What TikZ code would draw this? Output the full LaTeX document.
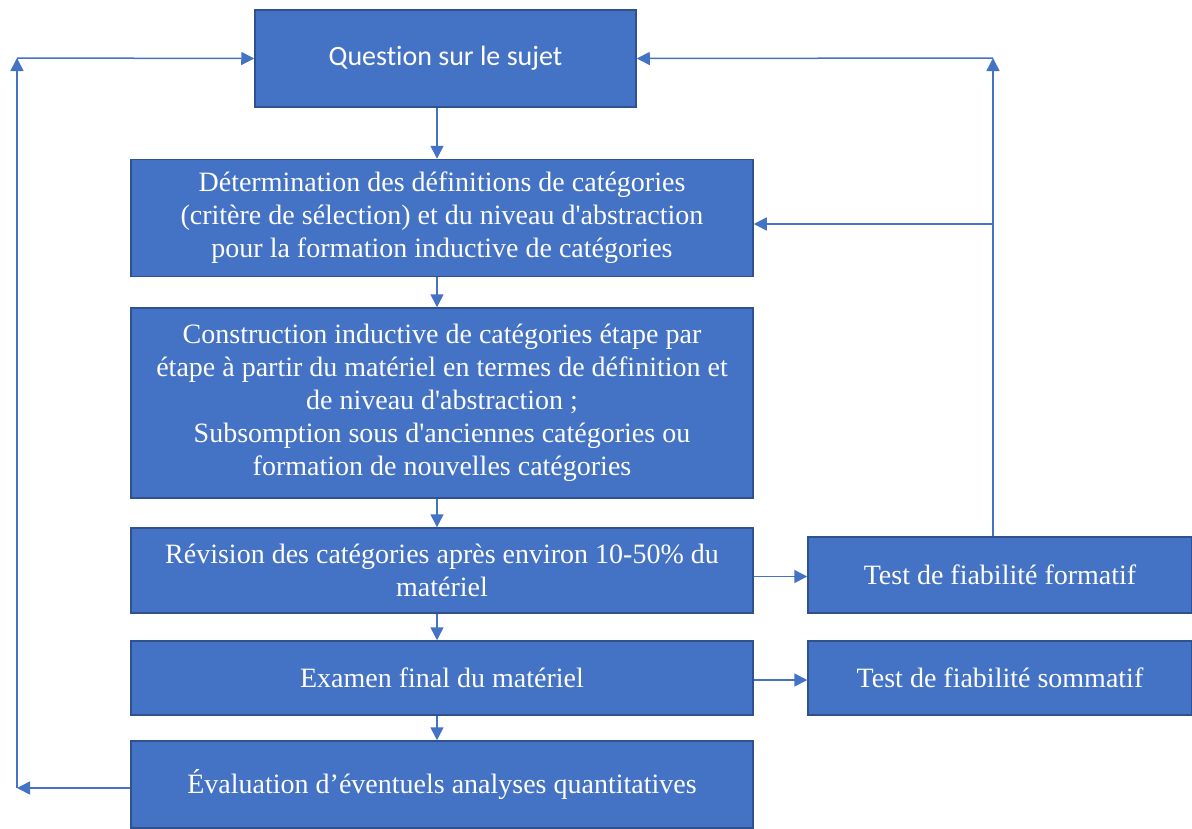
\documentclass[tikz,border=0pt]{standalone}
\usepackage{fontspec}
\setmainfont{Liberation Serif}
\newfontfamily\calibrifont[Ligatures=NoCommon]{Carlito}
\usetikzlibrary{arrows.meta}
\definecolor{boxblue}{HTML}{4472C4}
\definecolor{boxline}{HTML}{2F528F}
\newcommand{\apos}{\textquotesingle}

\begin{document}
\begin{tikzpicture}[x=1pt,y=-1pt,
    blk/.style={draw=boxline, fill=boxblue, text=white, line width=1.5pt,
                align=center, inner sep=0pt, minimum width=622pt,
                font=\fontsize{28}{33}\selectfont},
    arr/.style={draw=boxblue, line width=1.5pt,
                -{Triangle[length=13pt,width=13pt]}}]
    \useasboundingbox (0,0) rectangle (1192,828);

    % main column
    \node[blk, minimum width=381pt, minimum height=97pt,
          font=\calibrifont\fontsize{28}{33}\selectfont] (quest) at (445.5,58.5)
          {Quest\kern0pt ion sur le sujet};
    \node[blk, minimum height=117pt] (defin) at (442,218)
          {Détermination des définitions de catégories\\
           (critère de sélection) et du niveau d\apos abstraction\\
           pour la formation inductive de catégories};
    \node[blk, minimum height=190pt] (constr) at (442,403)
          {Construction inductive de catégories étape par\\
           étape à partir du matériel en termes de définition et\\
           de niveau d\apos abstraction ;\\
           Subsomption sous d\apos anciennes catégories ou\\
           formation de nouvelles catégories};
    \node[blk, minimum height=85pt] (revis) at (442,570.5)
          {Révision des catégories après environ 10-50\% du\\ matériel};
    \node[blk, minimum height=74pt] (exam) at (442,678)
          {Examen final du matériel};
    \node[blk, minimum height=87pt] (evalq) at (442,784.5)
          {Évaluation d’éventuels analyses quantitatives};

    % right column
    \node[blk, minimum width=384pt, minimum height=76pt] (tform) at (1000,575)
          {Test de fiabilité formatif};
    \node[blk, minimum width=384pt, minimum height=74pt] (tsomm) at (1000,678)
          {Test de fiabilité sommatif};

    % helper points
    \coordinate (spine) at (437,0);
    \coordinate (lbot) at (17,788);
    \coordinate (ltop) at (17,58);
    \coordinate (rtop) at (993,58);

    % down the column
    \draw[arr] (quest.south -| spine) -- (defin.north -| spine);
    \draw[arr] (defin.south -| spine) -- (constr.north -| spine);
    \draw[arr] (constr.south -| spine) -- (revis.north -| spine);
    \draw[arr] (revis.south -| spine) -- (exam.north -| spine);
    \draw[arr] (exam.south -| spine) -- (evalq.north -| spine);

    % to the tests
    \draw[arr] ([yshift=-6pt]revis.east) -- ([yshift=-6pt]revis.east -| tform.west);
    \draw[arr] ([yshift=-2pt]exam.east) -- ([yshift=-2pt]exam.east -| tsomm.west);

    % left loop
    \draw[arr] ([yshift=-3.5pt]evalq.west) -- (lbot);
    \draw[arr] (lbot) -- (ltop);
    \draw[arr] (ltop) -- (quest.west);

    % right loop
    \draw[arr] (tform.north -| rtop) -- (rtop);
    \draw[arr] (rtop) -- (quest.east);
    \draw[arr] ([yshift=-6pt]defin.east -| rtop) -- ([yshift=-6pt]defin.east);
\end{tikzpicture}
\end{document}
